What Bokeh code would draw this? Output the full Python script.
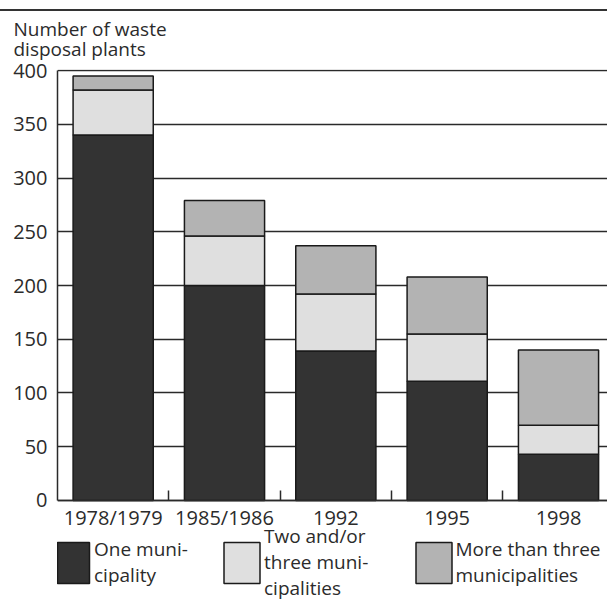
from bokeh.plotting import figure
from bokeh.models import (ColumnDataSource, Range1d, FixedTicker, Legend, LegendItem)
from bokeh.embed import file_html
from bokeh.resources import INLINE

categories = ["1978/1979", "1985/1986", "1992", "1995", "1998"]
one_municipality = [340, 200, 139, 111, 43]
two_three_municipalities = [42, 46, 53, 44, 27]
more_than_three = [13, 33, 45, 53, 70]
y_ticks = [0, 50, 100, 150, 200, 250, 300, 350, 400]
series_labels = ["One muni-\ncipality", "Two and/or\nthree muni-\ncipalities",
                 "More than three\nmunicipalities"]
colors = ["#333333", "#dfdfdf", "#b3b3b3"]

FONT = "Open Sans"
TXT = "#2b2b2b"
LINE = "#2a2a2a"

xs = list(range(len(categories)))
src = ColumnDataSource(dict(x=xs, one=one_municipality,
                            two=two_three_municipalities, more=more_than_three))

p = figure(width=607, height=601, output_backend="svg", toolbar_location=None,
           x_range=Range1d(-0.5, 4.44), y_range=Range1d(-94, 401),
           min_border_left=57, min_border_right=0, min_border_top=69,
           min_border_bottom=0)
p.outline_line_color = None
p.background_fill_color = "white"
p.border_fill_alpha = 0
p.styles = {"background": "linear-gradient(#333333, #333333) 0px 9px / 100% 2px no-repeat, white"}

p.title.text = "Number of waste\ndisposal plants"
p.title.align = "left"
p.title.offset = -44
p.title.text_font = FONT
p.title.text_font_size = "19px"
p.title.text_font_style = "normal"
p.title.text_color = TXT
p.title.text_line_height = 0.77
p.title.standoff = 14

renderers = p.vbar_stack(["one", "two", "more"], x="x", width=0.72, source=src,
                         fill_color=colors, line_color="#1a1a1a", line_width=1.5)

# axes
p.xaxis.fixed_location = 0
p.xaxis.ticker = FixedTicker(ticks=xs, minor_ticks=[i + 0.5 for i in xs[:-1]])
p.xaxis.major_label_overrides = {i: c for i, c in zip(xs, categories)}
p.xaxis.major_tick_in = 0
p.xaxis.major_tick_out = 0
p.xaxis.minor_tick_in = 10
p.xaxis.minor_tick_out = 0
p.xaxis.minor_tick_line_color = LINE
p.xaxis.minor_tick_line_width = 1.5
p.xaxis.major_label_standoff = 4

p.yaxis.ticker = FixedTicker(ticks=y_ticks)
p.yaxis.bounds = (0, 400)
p.yaxis.major_tick_in = 0
p.yaxis.major_tick_out = 0
p.yaxis.minor_tick_line_color = None
p.yaxis.major_label_standoff = 10

for ax in (p.xaxis, p.yaxis):
    ax.axis_line_color = LINE
    ax.axis_line_width = 1.5
    ax.major_label_text_font = FONT
    ax.major_label_text_font_size = "20px"
    ax.major_label_text_color = TXT

p.xgrid.grid_line_color = None
p.ygrid.grid_line_color = LINE
p.ygrid.grid_line_width = 1.5

legend_specs = [  # (x offset, y offset, glyph width, standoff, baseline)
    (-4, 13, 40, 1, "top"),
    (162, 0, 45, 0, "middle"),
    (353.5, 13, 45, 0, "middle"),
]
for r, lab, (lx, ly, gw, so, bl) in zip(renderers, series_labels, legend_specs):
    lg = Legend(items=[LegendItem(label=lab, renderers=[r])],
                location=(lx, ly), orientation="vertical",
                glyph_width=gw, glyph_height=51, label_standoff=so,
                padding=0, margin=0, spacing=0,
                border_line_color=None, background_fill_alpha=0,
                label_text_font=FONT, label_text_font_size="19px",
                label_text_color=TXT, label_text_baseline=bl)
    p.add_layout(lg, "center")

open("out.html", "w").write(file_html(p, INLINE))
